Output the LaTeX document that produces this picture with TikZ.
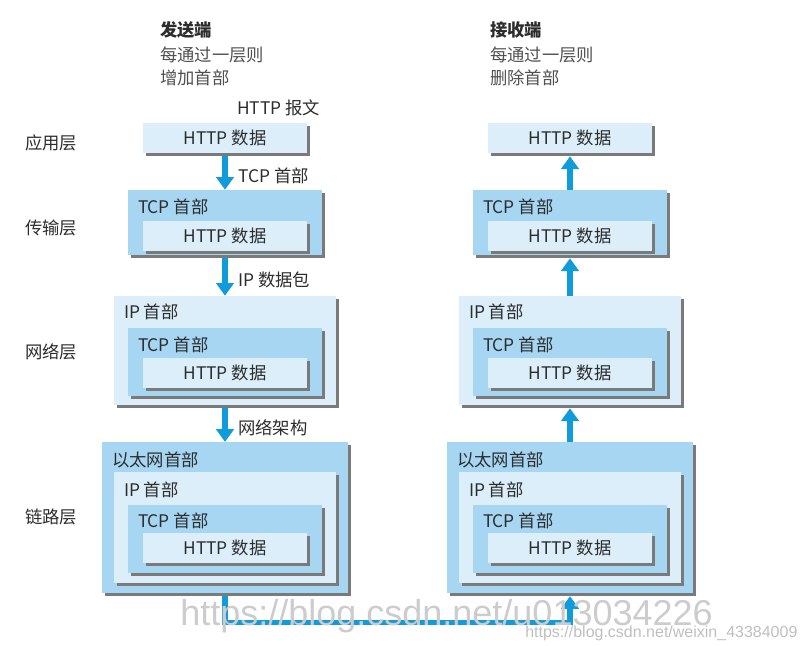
\documentclass[tikz,border=0pt]{standalone}
\usepackage{fontspec}
\setmainfont{Noto Sans CJK SC}
\newfontfamily\wmfont{Liberation Sans}
\usetikzlibrary{arrows.meta,shadows}

\definecolor{lightbox}{RGB}{219,238,250}
\definecolor{darkbox}{RGB}{166,214,242}
\definecolor{flowblue}{RGB}{16,155,218}
\definecolor{txt}{RGB}{45,45,45}
\definecolor{softtxt}{RGB}{80,80,80}

\begin{document}
\begin{tikzpicture}[x=0.75pt,y=-0.75pt,font=\fontsize{13}{15}\selectfont,
    shade/.style={drop shadow={shadow xshift=2.3pt,shadow yshift=-2.3pt,fill=black!52,opacity=1}},
    httpbox/.style={fill=lightbox,minimum width=123pt,minimum height=22.5pt,shade},
    tcpbox/.style={fill=darkbox,minimum width=145.5pt,minimum height=#1,shade},
    ipbox/.style={fill=lightbox,minimum width=166.5pt,minimum height=#1,shade},
    ethbox/.style={fill=darkbox,minimum width=184.5pt,minimum height=113pt,shade},
    hdr/.style={anchor=west,inner sep=0pt},
    lbl/.style={anchor=west,inner sep=0pt,xshift=8pt,yshift=-3pt},
    flow/.style={draw=flowblue,line width=3.8pt,-{Triangle[width=13pt,length=9.5pt]}},
    sendflow/.style={flow,shorten <=2.3pt},
    recvflow/.style={flow,shorten >=2.3pt}]

  \useasboundingbox (0,0) rectangle (804,646);

  % layer names and titles
  \begin{scope}[every node/.style={anchor=west,inner sep=0pt,text=txt}]
    \node (app)  at (25,143) {应用层};
    \node (tra)  at (25,228) {传输层};
    \node (net)  at (25,352) {网络层};
    \node (lnk)  at (25,517) {链路层};

    \node[font=\fontsize{13}{15}\selectfont\bfseries] (snd) at (160,30) {发送端};
    \node[text=softtxt] (snd1) at (160,55) {每通过一层则};
    \node[text=softtxt] (snd2) at (160,78) {增加首部};

    \node[font=\fontsize{13}{15}\selectfont\bfseries] (rcv) at (490,30) {接收端};
    \node[text=softtxt] (rcv1) at (490,55) {每通过一层则};
    \node[text=softtxt] (rcv2) at (490,78) {删除首部};
  \end{scope}

  % sender
  \begin{scope}[every node/.style={inner sep=0pt,text=txt}]
    \node[httpbox] (s1) at (225,138) {HTTP 数据};

    \node[tcpbox=48.75pt] (s2) at (225,222.5) {};
    \node[httpbox] (s2h) at (225,236) {HTTP 数据};

    \node[ipbox=81.75pt] (s3) at (225,350.5) {};
    \node[tcpbox=51pt] (s3t) at (225,362) {};
    \node[httpbox] (s3h) at (225,373) {HTTP 数据};

    \node[ethbox] (s4) at (225,517.5) {};
    \node[ipbox=83.25pt] (s4i) at (225,527.5) {};
    \node[tcpbox=51pt] (s4t) at (225,539) {};
    \node[httpbox] (s4h) at (225,548) {HTTP 数据};
  \end{scope}

  % receiver
  \begin{scope}[every node/.style={inner sep=0pt,text=txt}]
    \node[httpbox] (r1) at (570,138) {HTTP 数据};

    \node[tcpbox=48.75pt] (r2) at (570,222.5) {};
    \node[httpbox] (r2h) at (570,236) {HTTP 数据};

    \node[ipbox=81.75pt] (r3) at (570,350.5) {};
    \node[tcpbox=51pt] (r3t) at (570,362) {};
    \node[httpbox] (r3h) at (570,373) {HTTP 数据};

    \node[ethbox] (r4) at (570,517.5) {};
    \node[ipbox=83.25pt] (r4i) at (570,527.5) {};
    \node[tcpbox=51pt] (r4t) at (570,539) {};
    \node[httpbox] (r4h) at (570,548) {HTTP 数据};
  \end{scope}

  % headers inside the boxes
  \begin{scope}[every node/.style={hdr,text=txt}]
    \node (s2x)  at ([shift={(10,17)}]s2.north west)  {TCP 首部};
    \node (s3x)  at ([shift={(10,16)}]s3.north west)  {IP 首部};
    \node (s3tx) at ([shift={(10,17)}]s3t.north west) {TCP 首部};
    \node (s4x)  at ([shift={(10,18)}]s4.north west)  {以太网首部};
    \node (s4ix) at ([shift={(10,18)}]s4i.north west) {IP 首部};
    \node (s4tx) at ([shift={(10,16)}]s4t.north west) {TCP 首部};

    \node (r2x)  at ([shift={(10,17)}]r2.north west)  {TCP 首部};
    \node (r3x)  at ([shift={(10,16)}]r3.north west)  {IP 首部};
    \node (r3tx) at ([shift={(10,17)}]r3t.north west) {TCP 首部};
    \node (r4x)  at ([shift={(10,18)}]r4.north west)  {以太网首部};
    \node (r4ix) at ([shift={(10,18)}]r4i.north west) {IP 首部};
    \node (r4tx) at ([shift={(10,16)}]r4t.north west) {TCP 首部};
  \end{scope}

  \node[hdr,text=txt] (msg) at ([shift={(12,-15)}]s1.north) {HTTP 报文};

  % flows
  \begin{scope}[every node/.style={lbl,text=txt}]
    \draw[sendflow] (s1) -- node {TCP 首部} (s2);
    \draw[sendflow] (s2) -- node {IP 数据包} (s3);
    \draw[sendflow] (s3) -- node {网络架构} (s4);
  \end{scope}
  \draw[sendflow,shorten >=2.3pt] (s4.south) -- ++(0,29) -| (r4.south);
  \draw[recvflow] (r4) -- (r3);
  \draw[recvflow] (r3) -- (r2);
  \draw[recvflow] (r2) -- (r1);

  % watermark
  \node[anchor=base west,inner sep=0pt,text=gray!40,font=\fontsize{27}{30}\selectfont\wmfont] (wm) at (180,625) {https://blog.csdn.net/u013034226};
  \node[anchor=base west,inner sep=0pt,text=gray!50,font=\fontsize{12}{14}\selectfont\wmfont] (wm2) at (525,637) {https://blog.csdn.net/weixin\_43384009};

\end{tikzpicture}
\end{document}
